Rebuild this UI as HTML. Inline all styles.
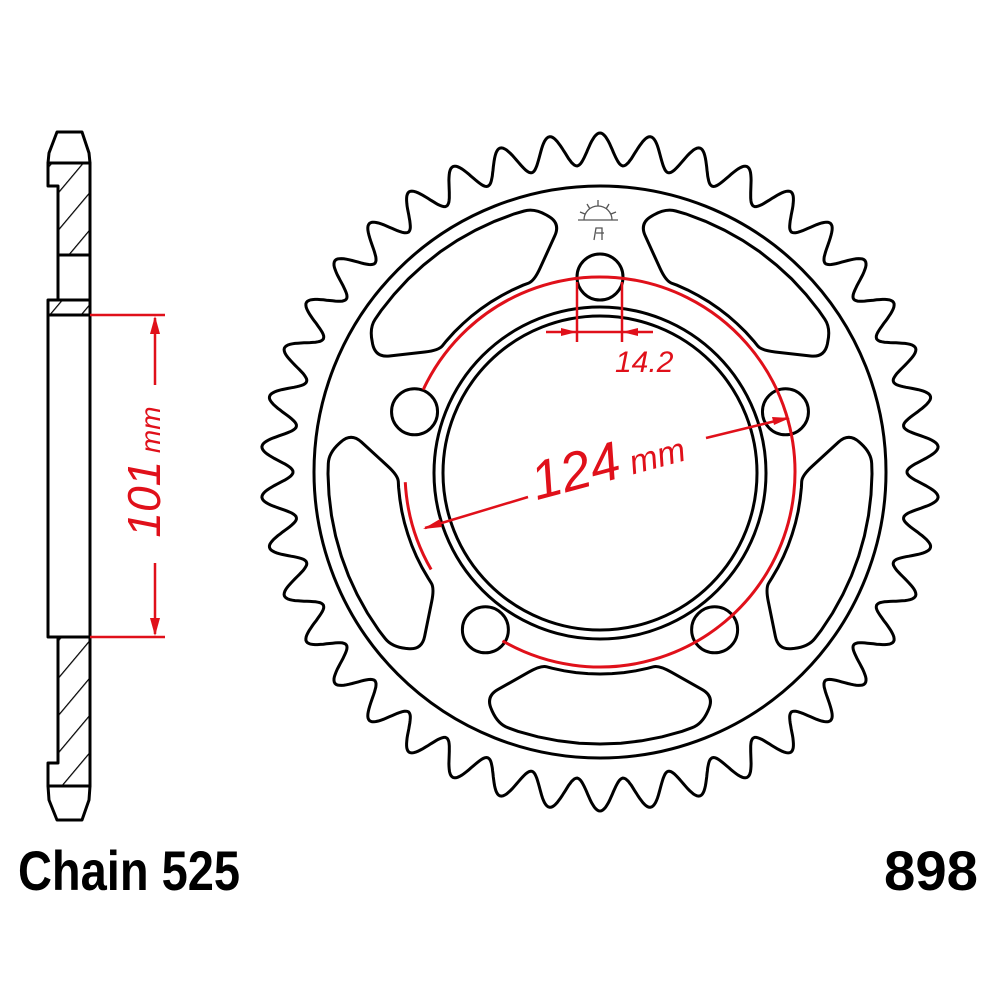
<!DOCTYPE html>
<html><head><meta charset="utf-8"><style>
html,body{margin:0;padding:0;background:#fff;}
svg{display:block}
</style></head><body>
<svg id="s" width="1000" height="1000" viewBox="0 0 1000 1000" xmlns="http://www.w3.org/2000/svg">
<defs>
<pattern id="h" patternUnits="userSpaceOnUse" width="24" height="24" patternTransform="rotate(40)">
<line x1="0" y1="0" x2="0" y2="24" stroke="#000" stroke-width="2.5"/>
</pattern>
</defs>
<rect width="1000" height="1000" fill="#fff"/>
<!-- side profile -->
<g stroke="#000" stroke-width="3" fill="none" stroke-linejoin="round">
<path d="M57,132 L82,132 L89,153 L90,163 L48,163 L49,153 Z"/>
<path d="M48,163 L90,163 L90,255 L58,255 L58,186 L48,186 Z" fill="url(#h)"/>
<path d="M58,255 L90,255 L90,300 L58,300 Z"/>
<path d="M48,300 L90,300 L90,315 L48,315 Z" fill="url(#h)"/>
<rect x="48" y="315" width="42" height="322"/>
<path d="M58,637 L90,637 L90,786 L48,786 L48,763 L58,763 Z" fill="url(#h)"/>
<path d="M48,786 L90,786 L89,800 L82,820 L57,820 L49,800 Z"/>
</g>
<g stroke="#e0101a" stroke-width="2.5" fill="#e0101a">
<line x1="90" y1="315" x2="165" y2="315"/>
<line x1="90" y1="637" x2="165" y2="637"/>
<line x1="155" y1="318" x2="155" y2="385"/>
<line x1="155" y1="563" x2="155" y2="634"/>
<path d="M155,316 L150,334 L160,334 Z" stroke="none"/>
<path d="M155,636 L150,618 L160,618 Z" stroke="none"/>
</g>
<text transform="translate(160,472) rotate(-90)" text-anchor="middle" fill="#e0101a" font-family="Liberation Sans, sans-serif" font-style="italic"><tspan font-size="46">101</tspan><tspan font-size="28"> mm</tspan></text>

<g id="gear" stroke="#000" stroke-width="3" fill="none"></g>
<g id="red" stroke="#e0101a" stroke-width="3" fill="none"></g>

<!-- 14.2 dimension -->
<g stroke="#e0101a" stroke-width="2.5" fill="#e0101a">
<line x1="577" y1="282" x2="577" y2="342"/>
<line x1="622" y1="282" x2="622" y2="342"/>
<line x1="546" y1="332" x2="653" y2="332"/>
<path d="M577,332 L561,328 L561,336 Z" stroke="none"/>
<path d="M622,332 L638,328 L638,336 Z" stroke="none"/>
</g>
<text x="615" y="372" fill="#e0101a" font-family="Liberation Sans, sans-serif" font-style="italic" font-size="30">14.2</text>
<!-- 124 dimension -->
<g stroke="#e0101a" stroke-width="2.5" fill="#e0101a">
<line x1="425" y1="528" x2="528" y2="497"/>
<line x1="706" y1="438" x2="788" y2="418"/>
<path d="M423,529 L440,519 L442,527 Z" stroke="none"/>
<path d="M790,418 L772,417 L774,425 Z" stroke="none"/>
</g>
<text transform="translate(612,480) rotate(-15)" text-anchor="middle" fill="#e0101a" font-family="Liberation Sans, sans-serif" font-style="italic"><tspan font-size="54">124</tspan><tspan font-size="34"> mm</tspan></text>
<!-- logo -->
<g stroke="#555" stroke-width="1.3" fill="none">
<path d="M584,220 A14,14 0 0 1 612,220"/>
<line x1="578" y1="220" x2="618" y2="220"/>
<line x1="598" y1="200" x2="598" y2="206"/>
<line x1="587" y1="204" x2="590" y2="209"/>
<line x1="609" y1="204" x2="606" y2="209"/>
<line x1="580" y1="212" x2="585" y2="214"/>
<line x1="616" y1="212" x2="611" y2="214"/>
<path d="M594,240 L596,228 L602,228 L602,240 M596,233 L604,233"/>
</g>
<text x="18" y="890" font-family="Liberation Sans, sans-serif" font-weight="bold" font-size="56" textLength="222" lengthAdjust="spacingAndGlyphs">Chain 525</text>
<text x="884" y="890" font-family="Liberation Sans, sans-serif" font-weight="bold" font-size="56" textLength="94" lengthAdjust="spacingAndGlyphs">898</text>
</svg>
<script>
(function(){
var NS="http://www.w3.org/2000/svg";
var cx=600,cy=472;
var g=document.getElementById('gear'),rd=document.getElementById('red');
function el(p,tag,a){var e=document.createElementNS(NS,tag);for(var k in a)e.setAttribute(k,a[k]);p.appendChild(e);return e;}
function P(r,deg){var t=deg*Math.PI/180;return [cx+r*Math.cos(t),cy+r*Math.sin(t)];}
// teeth: sinusoid-like with rounded tips and U roots
var N=42,rT=339,rR=307,pts=[],S=36,M=N*S;
for(var i=0;i<=M;i++){
 var ph=(i/S)%1; var a=-90+i*360/M;
 var d=Math.min(ph,1-ph)*2; // 0 tip, 1 root
 var f=0.5+0.5*Math.cos(Math.PI*d);
 var p=P(rR+(rT-rR)*f,a);pts.push(p[0].toFixed(1)+','+p[1].toFixed(1));
}
el(g,'path',{d:'M'+pts.join(' L')+'Z'});
el(g,'circle',{cx:cx,cy:cy,r:286});
el(g,'circle',{cx:cx,cy:cy+1,r:166});
el(g,'circle',{cx:cx,cy:cy+1,r:157});
var hc=[-90,-18,54,126,198];
hc.forEach(function(a){var p=P(195,a);el(g,'circle',{cx:p[0],cy:p[1],r:23});});
[-126,-54,18,90,162].forEach(function(c){
 var V=[[202,c-17],[202,c+17],[252,c+27],[272,c+22],[272,c-22],[252,c-27]];
 var L=[];
 for(var i=0;i<V.length;i++){
  var a=V[i],b=V[(i+1)%V.length];
  var n=(a[0]==b[0])?10:1;
  for(var k=0;k<n;k++){var t=k/n;L.push({p:P(a[0],a[1]+(b[1]-a[1])*t),c:k==0});}
 }
 var R=14,d='';
 for(var i=0;i<L.length;i++){
  var cur=L[i].p,prev=L[(i-1+L.length)%L.length].p,next=L[(i+1)%L.length].p;
  if(!L[i].c){d+=(d?' L':'M')+cur[0].toFixed(1)+','+cur[1].toFixed(1);continue;}
  var off=function(q){var dx=q[0]-cur[0],dy=q[1]-cur[1],l=Math.hypot(dx,dy),s=Math.min(R,l/2)/l;return [cur[0]+dx*s,cur[1]+dy*s];};
  var p1=off(prev),p2=off(next);
  d+=(d?' L':'M')+p1[0].toFixed(1)+','+p1[1].toFixed(1)+' Q'+cur[0].toFixed(1)+','+cur[1].toFixed(1)+' '+p2[0].toFixed(1)+','+p2[1].toFixed(1);
 }
 el(g,'path',{d:d+'Z'});
});
function arc(r,a1,a2){var p=P(r,a1),q=P(r,a2);var large=((a2-a1+360)%360)>180?1:0;return 'M'+p[0]+','+p[1]+' A'+r+','+r+' 0 '+large+' 1 '+q[0]+','+q[1];}
el(rd,'path',{d:arc(195,205,480)});
el(rd,'path',{d:arc(195,150,177)});
})();
</script>
</body></html>
